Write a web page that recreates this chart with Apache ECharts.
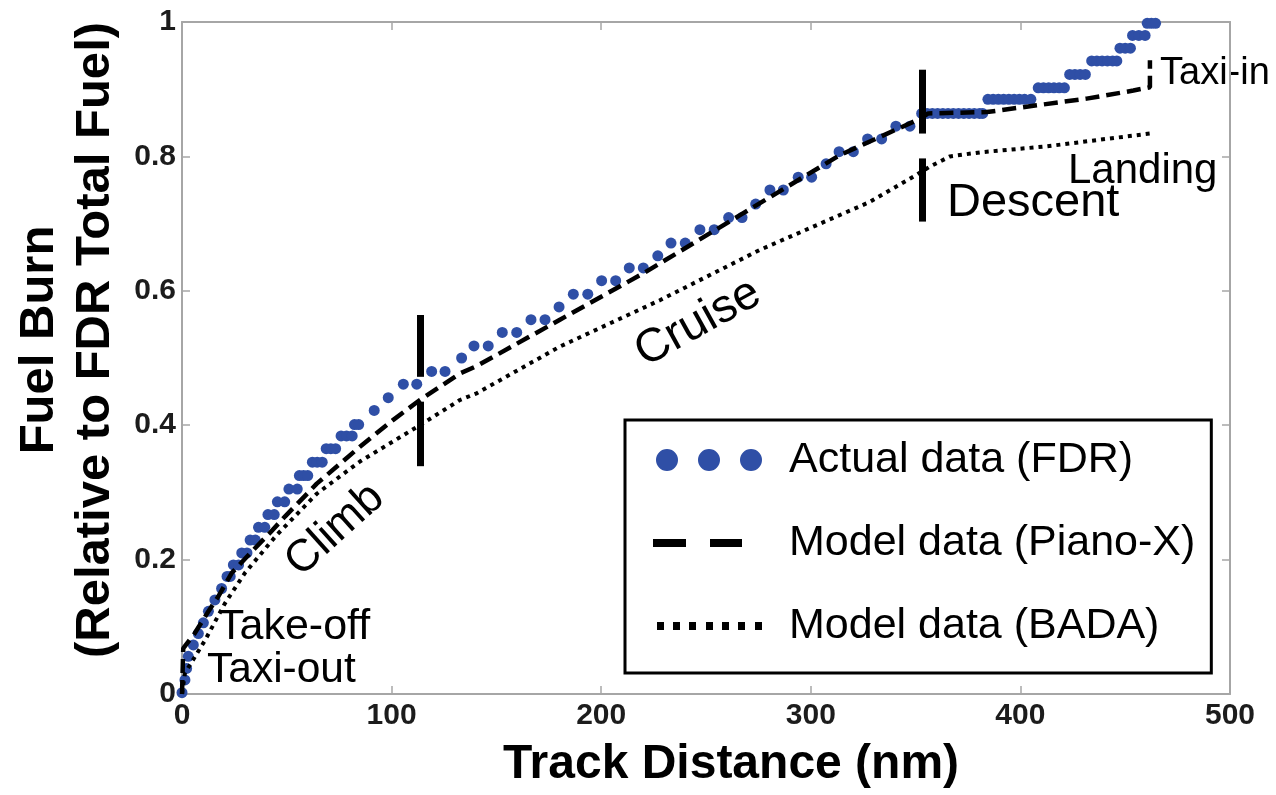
<!DOCTYPE html>
<html><head><meta charset="utf-8">
<script src="https://cdn.jsdelivr.net/npm/echarts@6/dist/echarts.min.js"></script>
<style>html,body{margin:0;padding:0;background:#fff}#c{width:1276px;height:795px}</style>
</head><body><div id="c"></div><script>
// ---- data ----
const xTicks = [0, 100, 200, 300, 400, 500];
const yTicks = [0, 0.2, 0.4, 0.6, 0.8, 1];
const seriesNames = ['Actual data (FDR)', 'Model data (Piano-X)', 'Model data (BADA)'];

const fdrData = [
  [0,0.002],[1.4,0.021],[2.2,0.038],[3.0,0.056],[5.4,0.073],[7.8,0.090],[10.2,0.106],[12.6,0.123],
  [15.7,0.140],[18.9,0.157],[21.5,0.175],[23,0.175],[24.5,0.192],[27,0.192],[28.5,0.210],[31,0.210],
  [32.5,0.229],[35,0.229],[36.5,0.248],[39.5,0.248],[41,0.267],[44,0.267],[45.5,0.286],[49,0.286],
  [51,0.305],[55,0.305],[56,0.325],[58,0.325],[60,0.325],[62.2,0.345],[64.5,0.345],[66.9,0.345],
  [68.8,0.365],[71,0.365],[73.3,0.365],[75.9,0.384],[78.5,0.384],[81.2,0.384],[82.3,0.401],[84.3,0.401],
  [91.7,0.422],[98.4,0.441],[105.6,0.461],[112.0,0.461],[119.1,0.480],[125.5,0.480],[133.4,0.500],
  [139.3,0.518],[146.1,0.518],[152.8,0.538],[159.7,0.538],[166.5,0.557],[173.2,0.557],[179.9,0.576],
  [186.7,0.595],[193.6,0.595],[200.2,0.615],[206.9,0.615],[213.4,0.634],[220.1,0.634],[227.0,0.652],
  [233.3,0.671],[240.1,0.671],[247.1,0.691],[253.9,0.691],[260.8,0.709],[267.2,0.709],[273.7,0.729],
  [280.5,0.750],[286.9,0.750],[294,0.769],[300.4,0.769],[307.3,0.789],[313.5,0.807],[320.3,0.807],
  [327.1,0.826],[333.8,0.826],[340.6,0.845],[347.3,0.845],[352.9,0.864],
  [355.5,0.864],[358,0.864],[360.5,0.864],[363,0.864],[365.5,0.864],[368,0.864],[370.5,0.864],
  [373,0.864],[375.5,0.864],[378,0.864],[380.5,0.864],[382,0.864],
  [384.5,0.885],[387,0.885],[389.5,0.885],[392,0.885],[394.5,0.885],[397,0.885],[399.5,0.885],[402,0.885],[405,0.885],
  [408.5,0.902],[411,0.902],[413.5,0.902],[416,0.902],[418.5,0.902],[421,0.902],
  [423.5,0.922],[426,0.922],[428.5,0.922],[431,0.922],
  [434,0.942],[436.5,0.942],[439,0.942],[441.5,0.942],[444,0.942],[446,0.942],
  [447.5,0.961],[450,0.961],[452.5,0.961],
  [453.5,0.980],[456.5,0.980],[459.5,0.980],
  [460.5,0.998],[462.5,0.998],[464.5,0.998]
];

const pianoData = [
  [0,0],[0.6,0.068],[6,0.090],[12,0.120],[17.3,0.145],[23.7,0.180],[33.3,0.212],[42,0.240],[49.1,0.264],
  [60.3,0.300],[64.3,0.313],[84.9,0.368],[100.8,0.408],[113.5,0.4375],[132.6,0.477],[140.6,0.488],
  [180.3,0.557],[220.1,0.626],[267,0.714],[313.9,0.802],[352.1,0.856],[356,0.864],[384,0.866],
  [407.8,0.876],[431.6,0.886],[453.9,0.898],[461.8,0.903],[461.8,0.943]
];

const badaData = [
  [0,0],[1.4,0.031],[11,0.080],[20.5,0.135],[30,0.180],[45,0.236],[64.3,0.298],[84.9,0.346],
  [113.5,0.400],[132.6,0.4375],[140.6,0.4475],[180.3,0.517],[228,0.586],[275.8,0.661],[328,0.732],
  [349,0.770],[356.9,0.785],[366.4,0.800],[380.7,0.806],[412.5,0.815],[461.8,0.834]
];

// phase separator bars: [x, yFrom, yTo]
const phaseBars = [[113.5,0.339,0.435],[113.5,0.472,0.564],[353.4,0.703,0.797],[353.4,0.834,0.929]];

// ---- chart ----
const FONT = 'Liberation Sans, Arial, sans-serif';
const frameColor = '#a6a6a6';
const chart = echarts.init(document.getElementById('c'), null, {renderer: 'canvas'});

function axisBase(extra) {
  return Object.assign({
    type: 'value',
    axisLine: {show: true, onZero: false, lineStyle: {color: frameColor, width: 2}},
    axisTick: {show: true, inside: false, length: -8, lineStyle: {color: frameColor, width: 1.5}},
    splitLine: {show: false}
  }, extra);
}

const option = {
  animation: false,
  backgroundColor: '#fff',
  grid: {left: 182, right: 46, top: 22, bottom: 101},
  xAxis: [
    axisBase({
      position: 'bottom', min: xTicks[0], max: xTicks[xTicks.length - 1], interval: 100,
      axisLabel: {fontFamily: FONT, fontSize: 30, fontWeight: 'bold', color: '#1c1c1c', margin: 7},
      name: 'Track Distance (nm)', nameLocation: 'middle', nameGap: 47,
      nameTextStyle: {fontFamily: FONT, fontSize: 48, fontWeight: 'bold', color: '#000', padding: [0, 0, 0, 50]}
    }),
    axisBase({
      position: 'top', min: xTicks[0], max: xTicks[xTicks.length - 1], interval: 100,
      axisLabel: {show: false}
    })
  ],
  yAxis: [
    axisBase({
      position: 'left', min: yTicks[0], max: yTicks[yTicks.length - 1], interval: 0.2,
      axisLabel: {fontFamily: FONT, fontSize: 30, fontWeight: 'bold', color: '#1c1c1c', margin: 6},
      name: 'Fuel Burn\n(Relative to FDR Total Fuel)', nameLocation: 'middle', nameGap: 54, nameRotate: 90,
      nameTextStyle: {fontFamily: FONT, fontSize: 49, fontWeight: 'bold', color: '#000', lineHeight: 56, padding: [0, 0, 0, 36]}
    }),
    axisBase({
      position: 'right', min: yTicks[0], max: yTicks[yTicks.length - 1], interval: 0.2,
      axisLabel: {show: false}
    })
  ],
  legend: {
    orient: 'vertical', left: 625, top: 420,
    padding: [17, 16, 24, 28], itemGap: 37, itemWidth: 110, itemHeight: 24,
    borderColor: '#000', borderWidth: 3, backgroundColor: '#fff',
    itemStyle: {borderWidth: 0},
    textStyle: {fontFamily: FONT, fontSize: 43, color: '#000', lineHeight: 46, padding: [0, 0, 0, 21]},
    data: [
      {name: seriesNames[0], icon: 'path://M0,0M110,24M3,12a11,11 0 1,0 22,0a11,11 0 1,0 -22,0ZM45,12a11,11 0 1,0 22,0a11,11 0 1,0 -22,0ZM87,12a11,11 0 1,0 22,0a11,11 0 1,0 -22,0Z'},
      {name: seriesNames[1], icon: 'path://M0,0M110,24M0,8h33v8h-33ZM57,8h32v8h-32Z'},
      {name: seriesNames[2], icon: 'path://M0,0M110,24M4,8h7v8h-7ZM20,8h7v8h-7ZM36,8h7v8h-7ZM53,8h7v8h-7ZM69,8h7v8h-7ZM85,8h7v8h-7ZM102,8h7v8h-7Z'}
    ]
  },
  series: [
    {
      name: seriesNames[0], type: 'scatter', data: fdrData, symbol: 'circle', symbolSize: 11, z: 2,
      itemStyle: {color: '#2f4fa6', opacity: 1, borderWidth: 0}
    },
    {
      name: seriesNames[1], type: 'line', data: pianoData, showSymbol: false, symbol: 'none', z: 3,
      color: '#000', itemStyle: {color: '#000', borderWidth: 0},
      lineStyle: {color: '#000', width: 4.5, type: [14, 7], cap: 'butt'}
    },
    {
      name: seriesNames[2], type: 'line', data: badaData, showSymbol: false, symbol: 'none', z: 3,
      color: '#000', itemStyle: {color: '#000', borderWidth: 0},
      lineStyle: {color: '#000', width: 4, type: [4, 5], cap: 'butt'},
      markLine: {
        silent: true, symbol: ['none', 'none'], label: {show: false},
        lineStyle: {color: '#000', width: 7, type: 'solid', cap: 'butt'},
        data: phaseBars.map(b => [{coord: [b[0], b[1]]}, {coord: [b[0], b[2]]}])
      }
    }
  ],
  graphic: [
    {type: 'text', x: 218, y: 627, style: {text: 'Take-off', font: '43px ' + FONT, fill: '#000', textAlign: 'left', textVerticalAlign: 'middle'}},
    {type: 'text', x: 207, y: 670, style: {text: 'Taxi-out', font: '42.5px ' + FONT, fill: '#000', textAlign: 'left', textVerticalAlign: 'middle'}},
    {type: 'text', x: 335, y: 530, rotation: 0.733, style: {text: 'Climb', font: '45px ' + FONT, fill: '#000', textAlign: 'center', textVerticalAlign: 'middle'}},
    {type: 'text', x: 698, y: 323, rotation: 0.506, style: {text: 'Cruise', font: '47px ' + FONT, fill: '#000', textAlign: 'center', textVerticalAlign: 'middle'}},
    {type: 'text', x: 947, y: 203, style: {text: 'Descent', font: '47px ' + FONT, fill: '#000', textAlign: 'left', textVerticalAlign: 'middle'}},
    {type: 'text', x: 1068, y: 171, style: {text: 'Landing', font: '42px ' + FONT, fill: '#000', textAlign: 'left', textVerticalAlign: 'middle'}},
    {type: 'text', x: 1160, y: 74, style: {text: 'Taxi-in', font: '38px ' + FONT, fill: '#000', textAlign: 'left', textVerticalAlign: 'middle'}}
  ]
};
chart.setOption(option);
</script></body></html>
